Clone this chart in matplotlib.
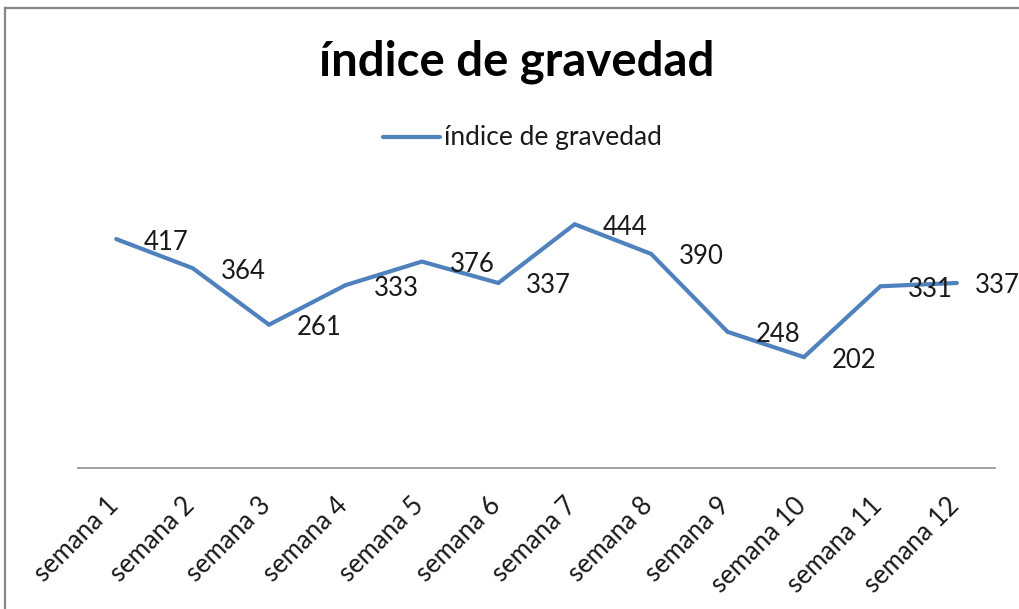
import matplotlib
matplotlib.use("Agg")
import matplotlib.pyplot as plt
from matplotlib.lines import Line2D
from matplotlib.transforms import ScaledTranslation

categories = ["semana 1", "semana 2", "semana 3", "semana 4", "semana 5", "semana 6",
              "semana 7", "semana 8", "semana 9", "semana 10", "semana 11", "semana 12"]
values = [417, 364, 261, 333, 376, 337, 444, 390, 248, 202, 331, 337]
series_name = "índice de gravedad"
title = "índice de gravedad"

plt.rcParams['font.family'] = ['Lato', 'DejaVu Sans']

W, H = 1019, 609
fig = plt.figure(figsize=(W / 100, H / 100), dpi=100)

# chart border (left and top visible)
fig.add_artist(Line2D([5 / W, 5 / W], [0, 1 - 8 / H], color="#868686", lw=1.6,
                      transform=fig.transFigure))
fig.add_artist(Line2D([5 / W, 1], [1 - 8 / H, 1 - 8 / H], color="#868686", lw=1.6,
                      transform=fig.transFigure))

left, right = 78 / W, 995 / W
bottom, top = 1 - 468 / H, 1 - 193.5 / H
ax = fig.add_axes([left, bottom, right - left, top - bottom])

x = list(range(len(categories)))
line, = ax.plot(x, values, color="#4F81BD", lw=3.0, solid_joinstyle="miter",
                solid_capstyle="round", label=series_name)

FS = 18.5
for i, (xi, v) in enumerate(zip(x, values)):
    dx = 28 if i < len(values) - 1 else 18
    ax.annotate(str(v), (xi, v), xytext=(dx, -3), textcoords="offset pixels",
                ha="left", va="center", fontsize=FS, color="#1a1a1a")

ax.set_xlim(-0.5, len(categories) - 0.5)
ax.set_ylim(0, 500)
ax.set_yticks([])
ax.set_xticks(x)
ax.set_xticklabels(categories, rotation=45, ha="right", fontsize=FS, color="#1a1a1a")
ax.tick_params(axis="x", length=0, pad=18)
shift = ScaledTranslation(7 / 100, 0, fig.dpi_scale_trans)
for lab in ax.get_xticklabels():
    lab.set_transform(lab.get_transform() + shift)
for s in ["top", "right", "left"]:
    ax.spines[s].set_visible(False)
ax.spines["bottom"].set_color("#9a9a9a")
ax.spines["bottom"].set_linewidth(1.3)
ax.patch.set_alpha(0)

fig.text(517 / W, 1 - 62 / H, title, ha="center", va="center", fontsize=34,
         fontweight="bold", color="black")

# legend
fig.add_artist(Line2D([383 / W, 440 / W], [1 - 137 / H, 1 - 137 / H], color="#4F81BD",
                      lw=3.0, solid_capstyle="round", transform=fig.transFigure))
fig.text(444 / W, 1 - 137 / H, series_name, ha="left", va="center", fontsize=19,
         color="#1a1a1a")

fig.savefig("out.png", dpi=100)
